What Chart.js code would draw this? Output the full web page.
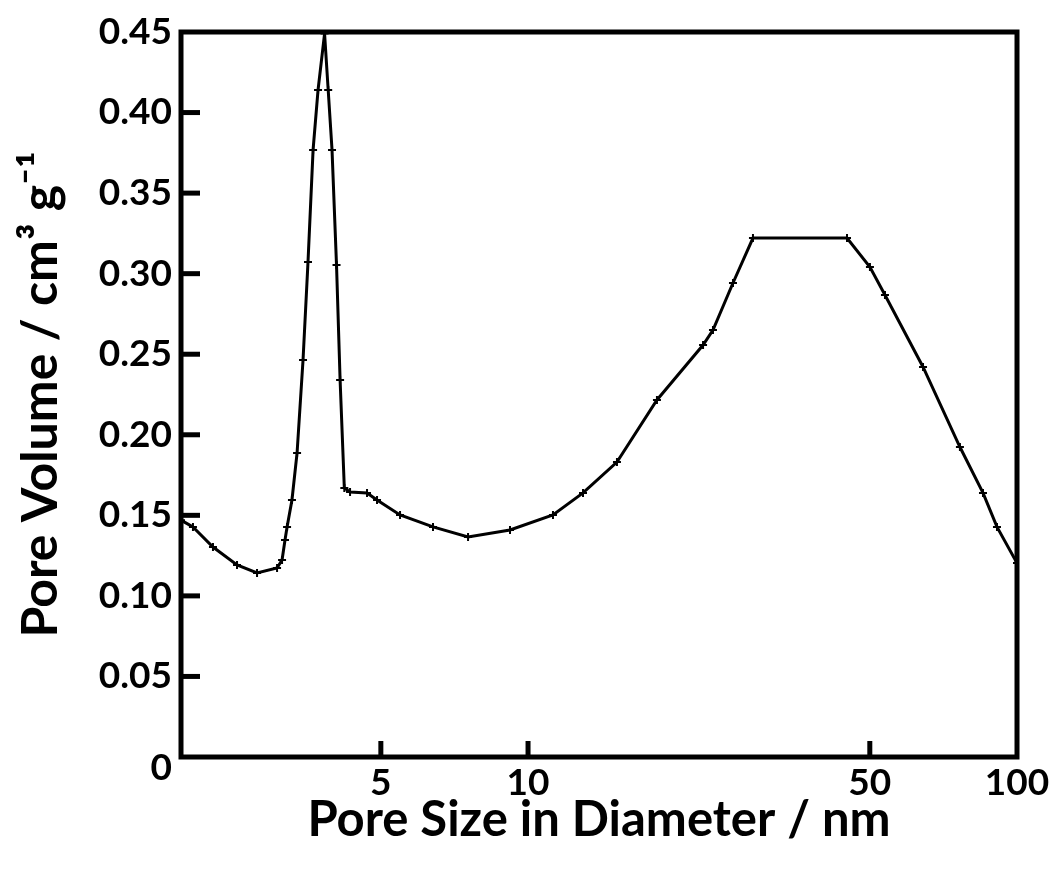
<!DOCTYPE html>
<html>
<head>
<meta charset="utf-8">
<script src="https://cdn.jsdelivr.net/npm/chart.js@4"></script>
<style>
  html, body { margin: 0; padding: 0; background: #fff; }
  #wrap { width: 1056px; height: 869px; }
</style>
</head>
<body>
<div id="wrap"><canvas id="c" width="1056" height="869"></canvas></div>
<script>
// ---- data ----
const poreSize = [1.951, 2.064, 2.268, 2.540, 2.791, 3.067, 3.140, 3.184, 3.215, 3.290,
  3.370, 3.466, 3.548, 3.634, 3.720, 3.836, 3.902, 3.973, 4.058, 4.127,
  4.210, 4.325, 4.685, 4.911, 5.473, 6.392, 7.539, 9.186, 11.246, 12.955,
  15.201, 18.35, 22.80, 23.89, 26.25, 28.84, 44.91, 50.03, 53.70, 64.24,
  76.43, 85.20, 91.00, 100];
const poreVolume = [0.147, 0.1428, 0.1303, 0.1192, 0.1142, 0.1173, 0.1223, 0.1347, 0.1428, 0.1595,
  0.1887, 0.2464, 0.3072, 0.3768, 0.4140, 0.449, 0.4140, 0.3768, 0.3054, 0.2340,
  0.1670, 0.1645, 0.1639, 0.1595, 0.1502, 0.1428, 0.1366, 0.1409, 0.1502, 0.1639,
  0.1831, 0.2216, 0.2557, 0.2650, 0.2942, 0.3221, 0.3221, 0.3041, 0.2868, 0.2421,
  0.1924, 0.1639, 0.1428, 0.1204];
const xTickValues = [5, 10, 50, 100];
const yTickStep = 0.05;
const xTitle = 'Pore Size in Diameter / nm';
const yTitle = 'Pore Volume / cm\u00B3 g\u207B\u00B9';

const FONT = 'Lato';
const points = poreSize.map((x, i) => ({ x: x, y: poreVolume[i] }));

// frame around the plot area + inward tick marks at the scales' own tick positions
const framePlugin = {
  id: 'frame',
  afterDatasetsDraw(chart) {
    const a = chart.chartArea;
    const ctx = chart.ctx;
    const xs = chart.scales.x, ys = chart.scales.y;
    ctx.save();
    ctx.strokeStyle = '#000';
    ctx.lineCap = 'butt';
    ctx.lineWidth = 5;
    ys.ticks.forEach(t => {
      if (t.value > 1e-9 && t.value < 0.449) {
        const py = ys.getPixelForValue(t.value);
        ctx.beginPath(); ctx.moveTo(a.left, py); ctx.lineTo(a.left + 19, py); ctx.stroke();
      }
    });
    xs.ticks.forEach(t => {
      if (t.value < 100) {
        const px = xs.getPixelForValue(t.value);
        ctx.beginPath(); ctx.moveTo(px, a.bottom); ctx.lineTo(px, a.bottom - 16); ctx.stroke();
      }
    });
    ctx.lineJoin = 'miter';
    ctx.strokeRect(a.left, a.top, a.right - a.left, a.bottom - a.top);
    ctx.restore();
  }
};

new Chart(document.getElementById('c'), {
  type: 'line',
  data: {
    datasets: [{
      data: points,
      borderColor: '#000',
      borderWidth: 3,
      tension: 0,
      pointStyle: 'cross',
      pointRadius: 4,
      pointBorderWidth: 2,
      pointBorderColor: '#000',
      pointBackgroundColor: '#000',
      fill: false
    }]
  },
  options: {
    responsive: false,
    devicePixelRatio: 1,
    animation: false,
    layout: { padding: { top: 32, right: 39, bottom: 0, left: 0 } },
    plugins: { legend: { display: false }, tooltip: { enabled: false } },
    scales: {
      x: {
        type: 'logarithmic',
        position: 'bottom',
        min: 1.951,
        max: 100,
        afterBuildTicks: (s) => { s.ticks = xTickValues.map(v => ({ value: v })); },
        afterFit: (s) => { s.height = 112; },
        border: { display: false },
        grid: { display: true, drawOnChartArea: false, drawTicks: false, color: 'rgba(0,0,0,0)' },
        ticks: {
          autoSkip: false,
          maxRotation: 0,
          padding: 2,
          color: '#000',
          font: { family: FONT, size: 37, weight: 'bold', lineHeight: 1.3 },
          callback: (v) => String(v)
        },
        title: {
          display: true,
          text: xTitle,
          color: '#000',
          font: { family: FONT, size: 49, weight: 'bold' },
          padding: { top: 0, bottom: 19 }
        }
      },
      y: {
        type: 'linear',
        min: 0,
        max: 0.45,
        afterFit: (s) => { s.width = 181; },
        border: { display: false },
        grid: { display: true, drawOnChartArea: false, drawTicks: false, color: 'rgba(0,0,0,0)' },
        ticks: {
          stepSize: yTickStep,
          padding: 9,
          color: '#000',
          font: (c) => ({ family: FONT, size: 37, weight: 'bold', lineHeight: (c.tick && c.tick.value < 1e-9) ? 0.6 : 1.2 }),
          callback: (v) => (Math.abs(v) < 1e-9 ? ['', '0'] : v.toFixed(2))
        },
        title: {
          display: true,
          text: yTitle,
          color: '#000',
          font: { family: FONT, size: 50, weight: 'bold' },
          padding: { top: 11, bottom: 0 }
        }
      }
    }
  },
  plugins: [framePlugin]
});
</script>
</body>
</html>
